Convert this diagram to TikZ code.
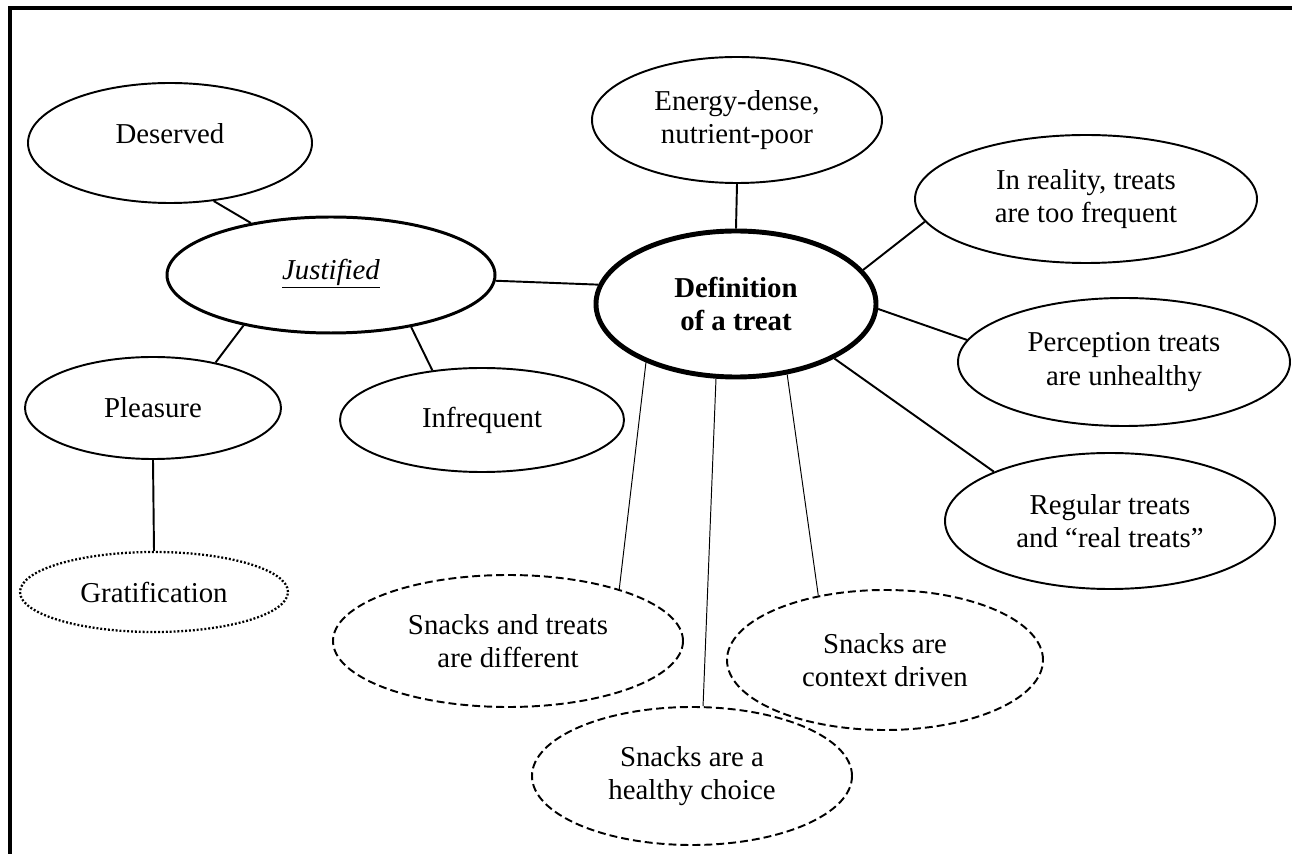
\documentclass[tikz,border=0pt]{standalone}
\usepackage{fontspec}
\setmainfont{Liberation Serif}
\usetikzlibrary{shapes.geometric}

\tikzset{
  topic/.style={ellipse, draw, line width=1.1pt, inner sep=0pt, align=center,
    font=\fontsize{16.4}{19}\selectfont},
  size/.style 2 args={minimum width=#1*0.02cm, minimum height=#2*0.02cm},
  snack/.style={dashed, dash pattern=on 4.5pt off 2.3pt},
  link/.style={line width=1.1pt},
  thinlink/.style={line width=0.55pt}
}

\begin{document}
\begin{tikzpicture}[x=0.02cm, y=-0.02cm]
  \useasboundingbox (0,0) rectangle (1292,854);
        % Draw frame
    \draw[line width=1.8pt] (10,854) -- (10,8) -- (1292,8);

        % Draw central topic
    \node[topic, size={280}{146}, line width=2.8pt] (def) at (736,304) {\textbf{Definition}\\\textbf{of a treat}};

        % Draw justified branch
    \node[topic, size={328}{116}, line width=1.7pt] (jus) at (331,275) {\raisebox{0.24cm}{\underline{\textit{Justified}}}};
    \node[topic, size={284}{120}] (des) at (170,143) {\raisebox{0.36cm}{Deserved}};
    \node[topic, size={256}{102}] (ple) at (153,408) {Pleasure};
    \node[topic, size={284}{104}] (inf) at (482,420) {Infrequent};
    \node[topic, size={268}{80}, dash pattern=on 1.1pt off 1.1pt, line width=1.3pt] (gra) at (154,592) {Gratification};

        % Draw other topics
    \node[topic, size={290}{126}] (ene) at (737,120) {Energy-dense,\\nutrient-poor};
    \node[topic, size={342}{128}] (inr) at (1086,199) {In reality, treats\\are too frequent};
    \node[topic, size={332}{128}] (per) at (1124,362) {Perception treats\\are unhealthy};
    \node[topic, size={330}{136}] (reg) at (1110,521) {Regular treats\\and “real treats”};

        % Draw snack topics
    \node[topic, size={350}{132}, snack] (dif) at (508,641) {Snacks and treats\\are different};
    \node[topic, size={316}{140}, snack] (con) at (885,660) {Snacks are\\context driven};
    \node[topic, size={320}{138}, snack] (hea) at (692,776) {Snacks are a\\healthy choice};

        % Add connectors
    \draw[link] (des.-53.3) -- (jus.147.3);
    \draw[link] (jus.210) -- (ple.36.3);
    \draw[link] (jus.-33) -- (inf.135);
    \draw[link] (jus.-2.8) -- (def.172.5);
    \draw[link] (ple.south) -- (gra.north);
    \draw[link] (ene.south) -- (def.north);
    \draw[link] (def.15.3) -- (inr.188.9);
    \draw[link] (def.-2.5) -- (per.172);
    \draw[link] (def.-29) -- (reg.157.5);
    \draw[thinlink] (def.213.4) -- (dif.25.9);
    \draw[thinlink] (def.255) -- (hea.81.8);
    \draw[thinlink] (def.-54.5) -- (con.136.4);
  \end{tikzpicture}
\end{document}
